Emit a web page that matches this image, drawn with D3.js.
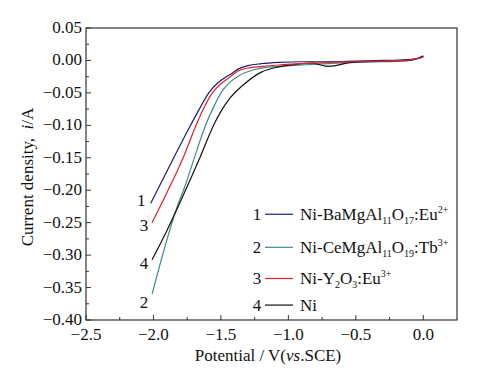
<!DOCTYPE html>
<html>
<head>
  <meta charset="utf-8">
  <script src="https://cdn.jsdelivr.net/npm/d3@7"></script>
  <style>
    body { margin: 0; background: #fff; }
    svg text { font-family: "Liberation Serif", "Times New Roman", "DejaVu Serif", serif; fill: #111; }
  </style>
</head>
<body>
<script>
  // potentials (V vs SCE) and currents (A)
  var v1 = [-2.02,-1.83,-1.72,-1.66,-1.59,-1.52,-1.46,-1.42,-1.37,-1.30,-1.20,-1.07,-0.9,-0.7,-0.5,-0.3,-0.15,-0.05,0.0];
  var i1 = [-0.220,-0.142,-0.098,-0.075,-0.050,-0.034,-0.025,-0.020,-0.013,-0.008,-0.005,-0.003,-0.002,-0.002,-0.001,0.000,0.001,0.003,0.007];

  var v2 = [-2.01,-1.83,-1.76,-1.70,-1.61,-1.55,-1.49,-1.43,-1.37,-1.25,-1.07,-0.9,-0.7,-0.5,-0.3,-0.1,0.0];
  var i2 = [-0.360,-0.229,-0.190,-0.152,-0.098,-0.070,-0.047,-0.033,-0.024,-0.014,-0.009,-0.007,-0.005,-0.003,-0.002,0.000,0.006];

  var v3 = [-2.01,-1.96,-1.78,-1.68,-1.63,-1.57,-1.50,-1.43,-1.37,-1.28,-1.19,-1.07,-0.9,-0.7,-0.5,-0.3,-0.1,0.0];
  var i3 = [-0.250,-0.229,-0.150,-0.098,-0.075,-0.052,-0.036,-0.025,-0.016,-0.011,-0.009,-0.007,-0.005,-0.003,-0.002,-0.001,0.001,0.005];

  var v4 = [-2.01,-1.90,-1.81,-1.66,-1.55,-1.49,-1.44,-1.33,-1.20,-1.07,-0.95,-0.82,-0.76,-0.71,-0.65,-0.57,-0.45,-0.3,-0.1,0.0];
  var i4 = [-0.307,-0.262,-0.222,-0.152,-0.098,-0.075,-0.060,-0.037,-0.018,-0.010,-0.006,-0.004,-0.007,-0.009,-0.008,-0.004,-0.002,-0.001,0.000,0.006];

  var seriesNums = ["1", "2", "3", "4"];
  var seriesColors = ["#1c1c74", "#3f8c8c", "#e3222c", "#111111"];
  // legend text parts: [text, kind] kind: n normal, b sub, p sup
  var legendParts = [
    [["Ni-BaMgAl","n"],["11","b"],["O","n"],["17","b"],[":Eu","n"],["2+","p"]],
    [["Ni-CeMgAl","n"],["11","b"],["O","n"],["19","b"],[":Tb","n"],["3+","p"]],
    [["Ni-Y","n"],["2","b"],["O","n"],["3","b"],[":Eu","n"],["3+","p"]],
    [["Ni","n"]]
  ];
  // where the numbers sit next to the curve ends: [potential, current]
  var endLabelPos = [[-2.09, -0.215], [-2.07, -0.372], [-2.07, -0.254], [-2.07, -0.312]];

  var xTicks = [-2.5, -2.0, -1.5, -1.0, -0.5, 0.0];
  var yTicks = [0.05, 0.00, -0.05, -0.10, -0.15, -0.20, -0.25, -0.30, -0.35, -0.40];

  var width = 491, height = 373;
  var margin = {left: 86, top: 28, right: 34, bottom: 53};

  var svg = d3.select("body").append("svg")
    .attr("width", width).attr("height", height)
    .attr("font-family", "Liberation Serif, serif");

  var x = d3.scaleLinear().domain([-2.5, 0.25]).range([margin.left, width - margin.right]);
  var y = d3.scaleLinear().domain([-0.40, 0.05]).range([height - margin.bottom, margin.top]);

  var fmt = function(d){ return d3.format(".2f")(d).replace("-", "\u2212"); };
  var fmt1 = function(d){ return d3.format(".1f")(d).replace("-", "\u2212"); };

  // minor ticks
  var xMinor = d3.range(-2.25, 0.25, 0.5);
  var yMinor = d3.range(-0.375, 0.05, 0.05);

  var bottomY = height - margin.bottom;
  svg.append("g").selectAll("line").data(xTicks).enter().append("line")
    .attr("x1", d => x(d)).attr("x2", d => x(d))
    .attr("y1", bottomY).attr("y2", bottomY - 5)
    .style("stroke", "#333");
  svg.append("g").selectAll("line").data(xMinor).enter().append("line")
    .attr("x1", d => x(d)).attr("x2", d => x(d))
    .attr("y1", bottomY).attr("y2", bottomY - 3)
    .style("stroke", "#333");
  svg.append("g").selectAll("line").data(yTicks).enter().append("line")
    .attr("x1", margin.left).attr("x2", margin.left + 5)
    .attr("y1", d => y(d)).attr("y2", d => y(d))
    .style("stroke", "#333");
  svg.append("g").selectAll("line").data(yMinor).enter().append("line")
    .attr("x1", margin.left).attr("x2", margin.left + 3)
    .attr("y1", d => y(d)).attr("y2", d => y(d))
    .style("stroke", "#333");

  // tick labels
  svg.append("g").selectAll("text").data(xTicks).enter().append("text")
    .attr("x", d => x(d)).attr("y", bottomY + 20)
    .attr("text-anchor", "middle").style("font-size", "17px")
    .text(fmt1);
  svg.append("g").selectAll("text").data(yTicks).enter().append("text")
    .attr("x", margin.left - 4).attr("y", d => y(d) + 5)
    .attr("text-anchor", "end").style("font-size", "17px")
    .text(fmt);

  // frame
  svg.append("rect")
    .attr("x", margin.left).attr("y", margin.top)
    .attr("width", width - margin.left - margin.right)
    .attr("height", height - margin.top - margin.bottom)
    .style("fill", "none").style("stroke", "#333").style("stroke-width", 1.2);

  // curves
  var allSeries = [[v1, i1], [v2, i2], [v3, i3], [v4, i4]];
  var line = d3.line().x(d => x(d[0])).y(d => y(d[1])).curve(d3.curveMonotoneX);
  var drawOrder = [1, 3, 0, 2];
  drawOrder.forEach(function(k){
    var pts = allSeries[k][0].map((v, j) => [v, allSeries[k][1][j]]);
    svg.append("path").datum(pts)
      .attr("d", line)
      .style("fill", "none")
      .style("stroke", seriesColors[k])
      .style("stroke-width", 1.2);
  });

  // numbers at curve ends
  svg.append("g").selectAll("text").data(endLabelPos).enter().append("text")
    .attr("x", d => x(d[0])).attr("y", d => y(d[1]) + 6)
    .attr("text-anchor", "middle").style("font-size", "17px")
    .text((d, k) => seriesNums[k]);

  // legend
  var legendRows = [-0.237, -0.288, -0.336, -0.377];
  var leg = svg.append("g");
  legendRows.forEach(function(r, k){
    var yy = y(r);
    leg.append("text").attr("x", 257).attr("y", yy + 6)
      .attr("text-anchor", "middle").style("font-size", "17px").text(seriesNums[k]);
    leg.append("line").attr("x1", 265).attr("x2", 293).attr("y1", yy).attr("y2", yy)
      .style("stroke", seriesColors[k]).style("stroke-width", 1.2);
    var t = leg.append("text").attr("x", 300).attr("y", yy + 6).style("font-size", "17px");
    var prev = 0;
    legendParts[k].forEach(function(p){
      var ts = t.append("tspan").text(p[0]);
      var target = p[1] == "b" ? 4 : p[1] == "p" ? -7 : 0;
      if (p[1] != "n") ts.style("font-size", "10px");
      ts.attr("dy", target - prev);
      prev = target;
    });
  });

  // axis titles
  var xt = svg.append("text").attr("x", 268).attr("y", 361)
    .attr("text-anchor", "middle").style("font-size", "17px");
  xt.append("tspan").text("Potential / V(");
  xt.append("tspan").style("font-style", "italic").text("vs");
  xt.append("tspan").text(".SCE)");

  var yt = svg.append("text")
    .attr("transform", "translate(33," + 177 + ") rotate(-90)")
    .attr("text-anchor", "middle").style("font-size", "17px");
  yt.append("tspan").text("Current density,\u00a0\u00a0");
  yt.append("tspan").style("font-style", "italic").text("i");
  yt.append("tspan").text("/A");
</script>
</body>
</html>
